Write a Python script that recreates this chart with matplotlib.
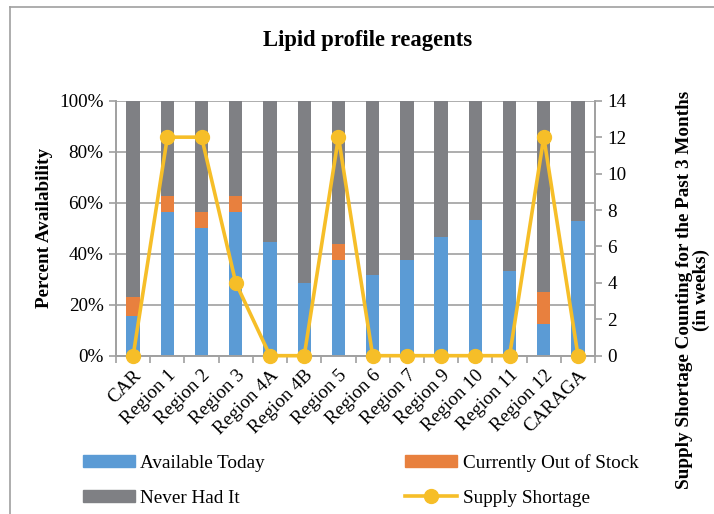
import numpy as np
import matplotlib
matplotlib.use('Agg')
import matplotlib.pyplot as plt
from matplotlib.lines import Line2D
from matplotlib.patches import Patch

plt.rcParams['font.family'] = ['Liberation Serif', 'DejaVu Serif']

regions = ['CAR', 'Region 1', 'Region 2', 'Region 3', 'Region 4A', 'Region 4B', 'Region 5',
           'Region 6', 'Region 7', 'Region 9', 'Region 10', 'Region 11', 'Region 12', 'CARAGA']
available = [15.4, 56.25, 50.0, 56.25, 44.4, 28.6, 37.5, 31.8, 37.5, 46.7, 53.3, 33.3, 12.5, 52.9]
out_of_stock = [7.7, 6.25, 6.25, 6.25, 0, 0, 6.25, 0, 0, 0, 0, 0, 12.5, 0]
never_had = [100 - a - o for a, o in zip(available, out_of_stock)]
shortage_weeks = [0, 12, 12, 4, 0, 0, 12, 0, 0, 0, 0, 0, 12, 0]

BLUE = '#5B9BD5'
ORANGE = '#E8803E'
GREY = '#7F8084'
GOLD = '#F6BE28'
AXC = '#A0A0A0'
FS = 13.8

fig = plt.figure(figsize=(7.14, 5.14), dpi=100)
ax = fig.add_axes([0.1625, 0.308, 0.671, 0.496])
x = np.arange(len(regions))
w = 0.39
bottom2 = np.array(available) + np.array(out_of_stock)
ax.bar(x, available, w, color=BLUE, zorder=2)
ax.bar(x, out_of_stock, w, bottom=available, color=ORANGE, zorder=2)
ax.bar(x, never_had, w, bottom=bottom2, color=GREY, zorder=2)

ax.set_xlim(-0.5, len(regions) - 0.5)
ax.set_ylim(0, 100)
ax.set_yticks(np.arange(0, 101, 20))
ax.set_yticklabels([f'{v}%' for v in range(0, 101, 20)], fontsize=FS)
ax.yaxis.grid(True, color=AXC, linewidth=1.2, zorder=0)
ax.set_axisbelow(True)
ax.set_xticks(x)
ax.set_xticklabels(regions, rotation=45, ha='right', rotation_mode='anchor', fontsize=FS)
ax.set_xticks(np.arange(-0.5, len(regions)), minor=True)
ax.tick_params(axis='x', which='major', length=0, pad=8)
ax.tick_params(axis='x', which='minor', length=5, color=AXC, width=1.2)
ax.tick_params(axis='y', length=5, color=AXC, width=1.2, pad=4)
for s in ['left', 'bottom', 'right']:
    ax.spines[s].set_color(AXC)
    ax.spines[s].set_linewidth(1.2)
ax.spines['top'].set_visible(False)
ax.set_ylabel('Percent Availability', fontsize=FS, fontweight='bold', labelpad=4)

ax2 = ax.twinx()
ax2.plot(x, shortage_weeks, color=GOLD, linewidth=2.6, marker='o', markersize=10, zorder=3,
         clip_on=False)
ax2.set_ylim(0, 14)
ax2.set_yticks(np.arange(0, 15, 2))
ax2.tick_params(axis='y', labelsize=FS, length=5, color=AXC, width=1.2, pad=4)
for s in ['left', 'bottom', 'right']:
    ax2.spines[s].set_color(AXC)
    ax2.spines[s].set_linewidth(1.2)
ax2.spines['top'].set_visible(False)

fig.text(693 / 714, 1 - 290 / 514, 'Supply Shortage Counting for the Past 3 Months\n(in weeks)',
         rotation=90, ha='center', va='center', multialignment='center', fontsize=FS,
         fontweight='bold', linespacing=0.95)

fig.text(0.515, 0.921, 'Lipid profile reagents', ha='center', va='center', fontsize=16.3,
         fontweight='bold')

handles = [Patch(color=BLUE), Patch(color=GREY), Patch(color=ORANGE),
           Line2D([], [], color=GOLD, linewidth=2.6, marker='o', markersize=10)]
labels = ['Available Today', 'Never Had It', 'Currently Out of Stock', 'Supply Shortage']
fig.legend(handles, labels, ncol=2, loc='upper left', bbox_to_anchor=(83 / 714, 0.117),
           frameon=False, fontsize=FS, handlelength=2.7, handleheight=0.55,
           columnspacing=7.3, labelspacing=0.94, borderaxespad=0, borderpad=0,
           handletextpad=0.3)

fig.add_artist(Line2D([10 / 714, 10 / 714], [0, 1 - 7 / 514], color=AXC, linewidth=1.2))
fig.add_artist(Line2D([10 / 714, 1], [1 - 7 / 514, 1 - 7 / 514], color=AXC, linewidth=1.2))

fig.savefig('out.png', dpi=100)
